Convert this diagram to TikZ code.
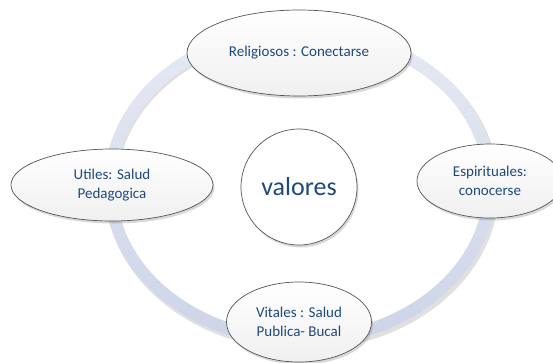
\documentclass[tikz,border=0pt]{standalone}
\usepackage{fontspec}
\setmainfont{Carlito}
\usetikzlibrary{shapes.geometric,shadows}
\definecolor{txtblue}{HTML}{1F497D}
\definecolor{ringtop}{HTML}{E6EAF3}
\definecolor{ringbot}{HTML}{CDD4E8}
\definecolor{edgegray}{HTML}{555555}
\tikzset{
  bubble/.style={ellipse, draw=edgegray, line width=0.7pt,
    top color=white, bottom color=black!6,
    drop shadow={opacity=0.3, shadow xshift=1.5pt, shadow yshift=-2.5pt},
    text=txtblue, font=\fontsize{15}{19}\selectfont, align=center, inner sep=0pt},
  hub/.style={circle, draw=edgegray, line width=0.7pt, fill=white,
    drop shadow={opacity=0.3, shadow xshift=1.5pt, shadow yshift=-2.5pt},
    text=txtblue, font=\fontsize{26}{30}\selectfont, inner sep=0pt}
}
\begin{document}
\begin{tikzpicture}[x=1pt,y=-1pt]
\useasboundingbox (0,0) rectangle (553,362);
\fill[white] (0,0) rectangle (553,362);
% ring shadow
\path[even odd rule, fill=black, opacity=0.12]
  (302,188) ellipse [x radius=197, y radius=162]
  (302,188) ellipse [x radius=185, y radius=150];
% ring
\path[even odd rule, top color=ringtop, bottom color=ringbot]
  (300,185) ellipse [x radius=196, y radius=161]
  (300,185) ellipse [x radius=184, y radius=149];
% hub
\node[hub, minimum size=116pt] (hub) at (299,187) {valores};
% bubbles
\node[bubble, minimum width=224pt, minimum height=86pt] (rel) at (299,53) {Religiosos : Conectarse};
\node[bubble, minimum width=146pt, minimum height=74pt] (esp) at (490,181) {Espirituales:\\conocerse};
\node[bubble, minimum width=145pt, minimum height=80pt] (vit) at (299,322) {Vitales : Salud\\Publica- Bucal};
\node[bubble, minimum width=202pt, minimum height=72pt] (uti) at (112,185) {Utiles: Salud\\Pedagogica};
\end{tikzpicture}
\end{document}
